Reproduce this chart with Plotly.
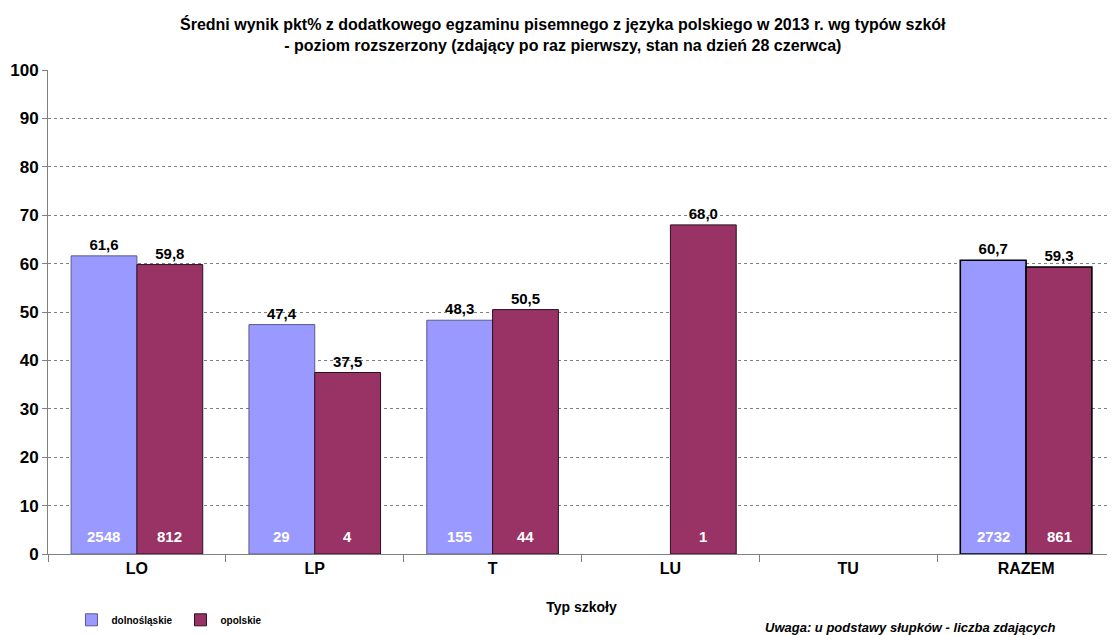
import plotly.graph_objects as go

# data
categories = ["LO", "LP", "T", "LU", "TU", "RAZEM"]
dolnoslaskie = [61.6, 47.4, 48.3, None, None, 60.7]
opolskie = [59.8, 37.5, 50.5, 68.0, None, 59.3]
n_dolnoslaskie = [2548, 29, 155, None, None, 2732]
n_opolskie = [812, 4, 44, 1, None, 861]
y_ticks = [0, 10, 20, 30, 40, 50, 60, 70, 80, 90, 100]

FONT = "Liberation Sans, Arial, sans-serif"
BLUE = "#9999FF"
RED = "#993366"


def fmt(v):
    return "" if v is None else f"{v:.1f}".replace(".", ",")


def outlines(base):
    # RAZEM bars get a heavier black frame
    colors = [base] * (len(categories) - 1) + ["#000000"]
    widths = [1] * (len(categories) - 1) + [1.6]
    return colors, widths


fig = go.Figure()

bc, bw = outlines("#5a5a8c")
fig.add_trace(go.Bar(
    x=categories, y=dolnoslaskie, name="dolnośląskie",
    marker=dict(color=BLUE, line=dict(color=bc, width=bw)),
    text=[fmt(v) for v in dolnoslaskie], textposition="outside",
    textfont=dict(family=FONT, size=15, color="black", weight="bold"),
    cliponaxis=False,
))
rc, rw = outlines("#2a1020")
fig.add_trace(go.Bar(
    x=categories, y=opolskie, name="opolskie",
    marker=dict(color=RED, line=dict(color=rc, width=rw)),
    text=[fmt(v) for v in opolskie], textposition="outside",
    textfont=dict(family=FONT, size=15, color="black", weight="bold"),
    cliponaxis=False,
))

# counts at the base of the bars
annotations = []
for counts, shift in ((n_dolnoslaskie, -33), (n_opolskie, 33)):
    for cat, n in zip(categories, counts):
        if n is None:
            continue
        annotations.append(dict(
            x=cat, y=0, xref="x", yref="y", text=f"<b>{n}</b>",
            showarrow=False, xshift=shift, yanchor="bottom", yshift=7,
            font=dict(family=FONT, size=15, color="white"),
        ))

annotations.append(dict(
    x=0.5, y=1.0, xref="paper", yref="paper", yshift=14, xshift=-19,
    text="<b>Średni wynik pkt% z dodatkowego egzaminu pisemnego z języka polskiego w 2013 r. wg typów szkół</b>"
         "<br><b>- poziom rozszerzony (zdający po raz pierwszy, stan na dzień 28 czerwca)</b>",
    showarrow=False, yanchor="bottom", xanchor="center",
    font=dict(family=FONT, size=16, color="black"),
))
annotations.append(dict(
    x=1.0, y=0, xref="paper", yref="paper", xanchor="right", yanchor="middle",
    yshift=-73, xshift=-58,
    text="<b><i>Uwaga: u podstawy słupków - liczba zdających</i></b>",
    showarrow=False, font=dict(family=FONT, size=13, color="black"),
))

# page body adds an 8px margin, so the figure is drawn 8px smaller
fig.update_layout(
    width=1107, height=627,
    margin=dict(l=40, r=0, t=62, b=81),
    paper_bgcolor="white", plot_bgcolor="white",
    barmode="group", bargap=0.26, bargroupgap=0,
    font=dict(family=FONT, color="black"),
    showlegend=True,
    legend=dict(
        orientation="h", x=0.022, y=-0.136, xanchor="left", yanchor="middle",
        font=dict(family=FONT, size=10, color="black", weight="bold"),
        entrywidth=64, entrywidthmode="pixels", itemwidth=30,
    ),
    annotations=annotations,
)

fig.update_xaxes(
    showline=True, linecolor="#808080", linewidth=1,
    ticks="outside", tickson="boundaries", ticklen=7, tickcolor="#808080",
    tickfont=dict(family=FONT, size=16, color="black", weight="bold"),
    title=dict(text="<b>Typ szkoły</b>", font=dict(family=FONT, size=14), standoff=25),
)
fig.update_yaxes(
    range=[0, 100], tickvals=y_ticks, ticktext=[str(t) for t in y_ticks],
    showline=True, linecolor="#808080", linewidth=1,
    ticks="outside", ticklen=5, tickcolor="#808080",
    showgrid=True, gridcolor="#808080", griddash="dot", gridwidth=1,
    zeroline=False,
    tickfont=dict(family=FONT, size=17, color="black", weight="bold"),
)

fig.write_html("out.html")
